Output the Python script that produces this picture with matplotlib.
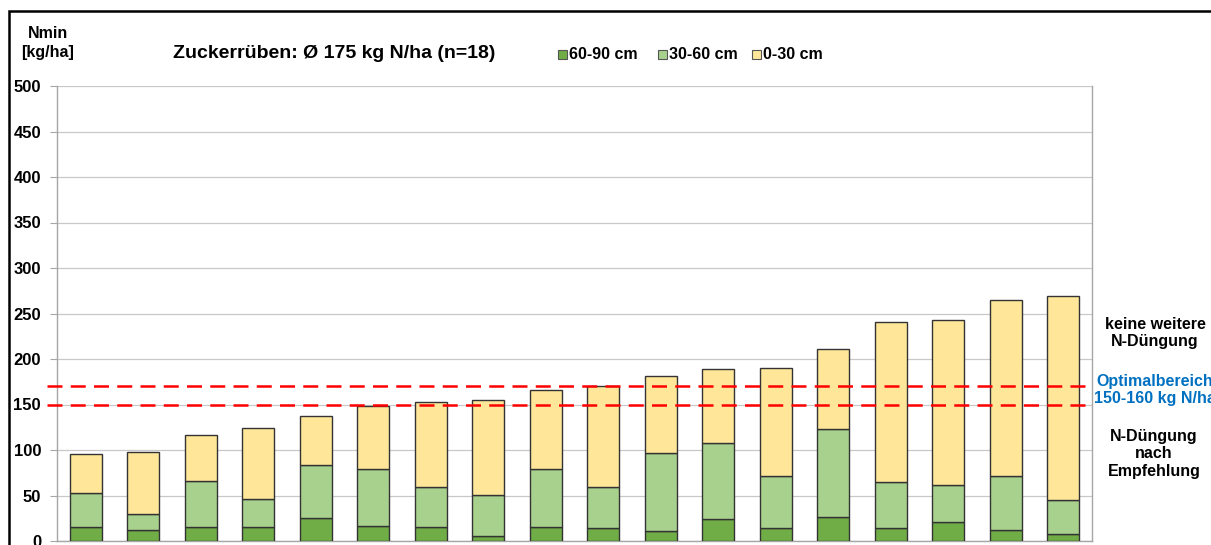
import matplotlib
matplotlib.use("Agg")
import matplotlib.pyplot as plt
from matplotlib.patches import Rectangle
import numpy as np

plt.rcParams['font.family'] = ['Liberation Sans', 'DejaVu Sans']

# Data (kg N/ha per layer)
layer_60_90 = [15, 12, 15, 15, 25, 16, 15, 5, 15, 14, 11, 24, 14, 26, 14, 21, 12, 8]
layer_30_60 = [38, 18, 51, 31, 58, 63, 44, 46, 64, 45, 86, 84, 57, 97, 51, 40, 59, 37]
layer_0_30 = [43, 68, 51, 78, 54, 69, 94, 104, 87, 111, 84, 81, 119, 88, 176, 182, 194, 224]
series_labels = ["60-90 cm", "30-60 cm", "0-30 cm"]
optimal_lines = [150, 170]
yticks = [0, 50, 100, 150, 200, 250, 300, 350, 400, 450, 500]

colors = ["#70AD47", "#A9D18E", "#FFE699"]

fig = plt.figure(figsize=(12.11, 5.45), dpi=100)
ax = fig.add_axes([57/1211, 1-541/545, (1092-57)/1211, (541-86)/545])

x = np.arange(len(layer_60_90))
bottom = np.zeros(len(x))
for vals, c, lab in zip([layer_60_90, layer_30_60, layer_0_30], colors, series_labels):
    ax.bar(x, vals, width=0.56, bottom=bottom, color=c, edgecolor="#333333",
           linewidth=1.0, label=lab, zorder=3)
    bottom += np.array(vals)

for yv in optimal_lines:
    ax.axhline(yv, color="#FF0000", linestyle=(0, (6, 3.3)), linewidth=1.8, zorder=4,
               xmin=-0.01, xmax=1.0, clip_on=False)

ax.set_xlim(-0.5, len(x) - 0.5)
ax.set_ylim(0, 500)
ax.set_yticks(yticks)
ax.set_yticklabels([str(t) for t in yticks], fontsize=12, fontweight="bold")
ax.set_xticks([])
ax.yaxis.grid(True, color="#C8C8C8", linewidth=0.9, zorder=0)
ax.set_axisbelow(True)
for s in ["left", "right", "bottom"]:
    ax.spines[s].set_color("#A6A6A6")
    ax.spines[s].set_linewidth(1.0)
ax.spines["top"].set_visible(False)
ax.tick_params(axis="y", length=5, color="#A6A6A6", pad=6.5)

# Texts
fig.text(48/1211, 1-33/545, "Nmin", ha="center", va="center", fontsize=11.5, fontweight="bold")
fig.text(48/1211, 1-52/545, "[kg/ha]", ha="center", va="center", fontsize=11.5, fontweight="bold")
fig.text(173/1211, 1-53/545, "Zuckerrüben: Ø 175 kg N/ha (n=18)", ha="left", va="center",
         fontsize=14, fontweight="bold")

# Legend
leg_x = [562, 662, 756]
for lx, c, lab in zip(leg_x, colors, series_labels):
    fig.patches.append(Rectangle(((lx-4)/1211, 1-59/545), 9/1211, 9/545, transform=fig.transFigure,
                                 facecolor=c, edgecolor="#555555", linewidth=0.8))
    fig.text((lx+7)/1211, 1-54.5/545, lab, ha="left", va="center", fontsize=11.5, fontweight="bold")

fig.text(1155/1211, 1-333/545, "keine weitere\nN-Düngung", ha="center", va="center",
         fontsize=11.5, fontweight="bold", linespacing=1.2)
fig.text(1094/1211, 1-390/545, "Optimalbereich\n150-160 kg N/ha", ha="left", va="center",
         fontsize=11.5, fontweight="bold", color="#0070C0", linespacing=1.2,
         multialignment="center")
fig.text(1154/1211, 1-454/545, "N-Düngung\nnach\nEmpfehlung", ha="center", va="center",
         fontsize=11.5, fontweight="bold", linespacing=1.2)

# Outer frame
fig.patches.append(Rectangle((9/1211, -0.05), 1.2, 1-11/545+0.05, transform=fig.transFigure,
                             fill=False, edgecolor="black", linewidth=1.8))

fig.savefig("out.png", dpi=100)
